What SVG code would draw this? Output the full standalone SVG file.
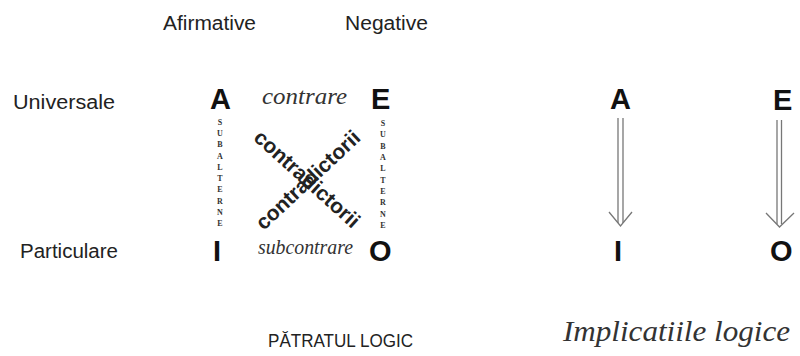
<svg xmlns="http://www.w3.org/2000/svg" width="800" height="356" viewBox="0 0 800 356">
<style>
.hdr{font-family:"Liberation Sans",Arial,sans-serif;font-size:20px;fill:#222}
.big{font-family:"Liberation Sans",Arial,sans-serif;font-size:29px;font-weight:bold;fill:#111}
.scr{font-family:"Liberation Serif","Times New Roman",serif;font-style:italic;fill:#333}
.sub{font-family:"Liberation Serif","Times New Roman",serif;font-size:8px;font-weight:bold;fill:#333;text-anchor:middle}
.cd{font-family:"Liberation Sans",Arial,sans-serif;font-size:21px;font-weight:bold;fill:#222;text-anchor:middle}
.arr{fill:none;stroke:#777;stroke-width:1.3}
</style>
<rect width="800" height="356" fill="#fff"/>
<g id="headers">
<text class="hdr" x="163" y="30" textLength="93" lengthAdjust="spacingAndGlyphs">Afirmative</text>
<text class="hdr" x="345" y="30" textLength="83" lengthAdjust="spacingAndGlyphs">Negative</text>
<text class="hdr" x="13" y="109" textLength="102" lengthAdjust="spacingAndGlyphs">Universale</text>
<text class="hdr" x="20" y="258" textLength="98" lengthAdjust="spacingAndGlyphs">Particulare</text>
</g>
<g id="square">
<g id="node-A"><text class="big" x="210" y="109">A</text></g>
<g id="node-E"><text class="big" x="371" y="109">E</text></g>
<g id="node-I"><text class="big" x="213" y="261">I</text></g>
<g id="node-O"><text class="big" x="369" y="261">O</text></g>
<text class="scr" x="262" y="104" font-size="23" textLength="85" lengthAdjust="spacingAndGlyphs">contrare</text>
<text class="scr" x="258" y="254" font-size="20" fill="#555" textLength="95" lengthAdjust="spacingAndGlyphs">subcontrare</text>
<g id="subalterne-left">
<text class="sub" x="220" y="125">S</text>
<text class="sub" x="220" y="136">U</text>
<text class="sub" x="220" y="147">B</text>
<text class="sub" x="220" y="159">A</text>
<text class="sub" x="220" y="170">L</text>
<text class="sub" x="220" y="181">T</text>
<text class="sub" x="220" y="192">E</text>
<text class="sub" x="220" y="204">R</text>
<text class="sub" x="220" y="215">N</text>
<text class="sub" x="220" y="226">E</text>
</g>
<g id="subalterne-right">
<text class="sub" x="383" y="126">S</text>
<text class="sub" x="383" y="137">U</text>
<text class="sub" x="383" y="149">B</text>
<text class="sub" x="383" y="160">A</text>
<text class="sub" x="383" y="171">L</text>
<text class="sub" x="383" y="183">T</text>
<text class="sub" x="383" y="194">E</text>
<text class="sub" x="383" y="205">R</text>
<text class="sub" x="383" y="217">N</text>
<text class="sub" x="383" y="228">E</text>
</g>
<text class="cd" transform="translate(307,179) rotate(42)" y="7">contradictorii</text>
<text class="cd" transform="translate(308,180) rotate(-43)" y="7">contradictorii</text>
<text x="268" y="347" font-family="Liberation Sans,Arial,sans-serif" font-size="18" fill="#222" textLength="145" lengthAdjust="spacingAndGlyphs">PĂTRATUL LOGIC</text>
</g>
<g id="implications">
<g id="node-A2"><text class="big" x="610" y="109">A</text></g>
<g id="node-E2"><text class="big" x="773" y="110">E</text></g>
<g id="node-I2"><text class="big" x="614" y="261">I</text></g>
<g id="node-O2"><text class="big" x="770" y="261">O</text></g>
<text class="scr" x="563" y="341" font-size="29" fill="#222" textLength="227" lengthAdjust="spacingAndGlyphs">Implicatiile logice</text>
</g>
<g id="connectors">
<line class="arr" x1="618" y1="118" x2="618" y2="223"/>
<line class="arr" x1="623" y1="118" x2="623" y2="223"/>
<polyline class="arr" points="609,212 620.5,226 632,212"/>
<line class="arr" x1="777" y1="120" x2="777" y2="224"/>
<line class="arr" x1="781.5" y1="120" x2="781.5" y2="224"/>
<polyline class="arr" points="766,213 779.5,227 794,213"/>
</g>
</svg>
